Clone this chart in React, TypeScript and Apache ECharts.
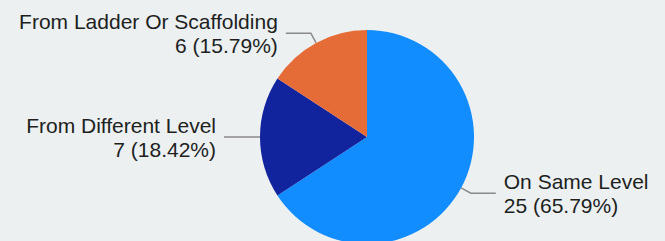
import React, { useEffect, useRef } from "react";
import * as echarts from "echarts";

const categories = ["On Same Level", "From Different Level", "From Ladder Or Scaffolding"];
const values = [25, 7, 6];
const colors = ["#118DFF", "#12239E", "#E66C37"];

export default function App() {
  const ref = useRef<HTMLDivElement>(null);
  useEffect(() => {
    document.body.style.margin = "0";
    const chart = echarts.init(ref.current!, null, { renderer: "svg" });
    chart.setOption({
      animation: false,
      backgroundColor: "#edf0f1",
      series: [
        {
          type: "pie",
          center: [367, 137],
          radius: 107,
          startAngle: 90,
          clockwise: true,
          avoidLabelOverlap: false,
          data: categories.map((name, i) => ({
            name,
            value: values[i],
            itemStyle: { color: colors[i] },
          })),
          label: {
            show: true,
            formatter: "{b}\n{c} ({d}%)",
            fontFamily: "Liberation Sans, Arial, sans-serif",
            fontSize: 21,
            lineHeight: 24,
            color: "#201f1e",
            distanceToLabelLine: 8,
          },
          labelLine: {
            show: true,
            length: 11,
            length2: 25,
            lineStyle: { color: "#8a8a8a", width: 1.5 },
          },
        },
      ],
    });
    return () => chart.dispose();
  }, []);
  return <div ref={ref} style={{ position: "fixed", left: 0, top: 0, width: 665, height: 241 }} />;
}
